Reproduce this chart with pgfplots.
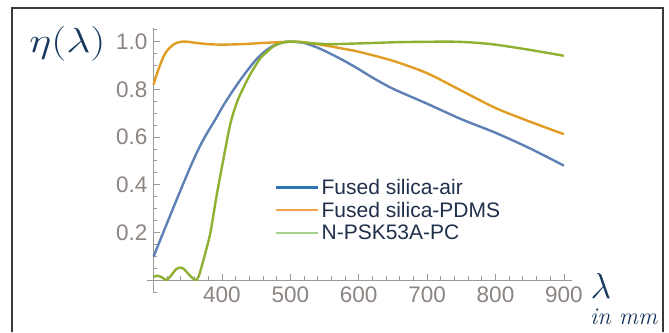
\documentclass[border=0pt]{standalone}
\usepackage{pgfplots}
\pgfplotsset{compat=1.18}
\usepackage{fontspec}
\setsansfont{Liberation Sans}
\definecolor{cblue}{HTML}{5E81B5}
\definecolor{corange}{HTML}{E19C24}
\definecolor{cgreen}{HTML}{8FB131}
\definecolor{lblue}{HTML}{2E75B6}
\definecolor{lorange}{HTML}{F4A24A}
\definecolor{lgreen}{HTML}{A9D18E}
\definecolor{navy}{HTML}{17375E}
\definecolor{legtext}{HTML}{1F2F4A}
\definecolor{axgray}{HTML}{9A9A9A}
\definecolor{lbgray}{HTML}{8C8480}
\definecolor{framec}{HTML}{3A3A3A}
\begin{document}
\begin{tikzpicture}[x=1pt,y=1pt]
\useasboundingbox (0,0) rectangle (669,332);
\draw[framec, line width=1.6pt] (12,0) -- (12,324) -- (663,324) -- (663,0);
\begin{axis}[
  at={(153.5pt,52pt)}, anchor=south west,
  scale only axis, width=418.6pt, height=252.3pt,
  xmin=300, xmax=912, ymin=0, ymax=1.059,
  axis x line=bottom, axis y line=left,
  axis line style={-, axgray, line width=0.8pt},
  xtick={400,500,...,900}, ytick={0.2,0.4,...,1.0},
  minor xtick={320,340,...,900}, minor ytick={0.05,0.1,...,1.06},
  tick align=inside,
  major tick length=6pt, minor tick length=3.5pt,
  tick style={axgray, line width=0.8pt},
  /pgf/number format/assume math mode=true,
  ticklabel style={font=\fontsize{22.5}{22.5}\selectfont\sffamily, text=lbgray},
  yticklabel style={xshift=-2.5pt, /pgf/number format/.cd, fixed, fixed zerofill, precision=1},
  xticklabel style={yshift=-3pt, /pgf/number format/.cd, fixed, 1000 sep={}},
  legend style={draw=none, fill=none, at={(0.2903,0.2774)}, anchor=west,
    font=\fontsize{21}{21}\selectfont\sffamily, text=legtext, row sep=2pt,
    inner sep=0pt},
  legend cell align=left,
  legend image code/.code={\draw[#1, line width=2.4pt] (0pt,0pt) -- (42pt,0pt);},
  every axis plot/.append style={line width=2.4pt, smooth, no markers},
  clip=false,
]
\addplot[cblue, forget plot] coordinates {
(300,0.098)(320,0.240)(340,0.380)(355,0.482)(365,0.545)(375,0.600)(390,0.672)
(402,0.732)(415,0.790)(427,0.840)(440,0.890)(451,0.928)(463,0.960)(475,0.983)
(488,0.997)(500,1.0)
(520,0.995)(540,0.975)(560,0.948)(580,0.918)(600,0.885)(620,0.850)(650,0.803)
(700,0.740)(750,0.675)(800,0.618)(850,0.553)(900,0.480)};
\addplot[corange, forget plot] coordinates {
(300,0.82)(305,0.865)(310,0.905)(315,0.94)(320,0.963)(330,0.99)(340,1.0)(350,1.0)
(360,0.996)(380,0.99)(400,0.988)(430,0.99)(460,0.995)(500,1.0)(520,0.998)
(550,0.985)(575,0.972)(600,0.958)(650,0.92)(700,0.868)(750,0.795)(800,0.722)
(850,0.665)(900,0.612)};
\addplot[cgreen, forget plot] coordinates {
(300,0.012)(305,0.018)(312,0.012)(319,0.0)(326,0.02)(333,0.045)(339,0.052)
(345,0.045)(352,0.022)(361,0.0)(366,0.015)(373,0.084)(383,0.196)(392,0.35)
(402,0.504)(412,0.651)(420,0.73)(426.5,0.777)(441,0.861)(456,0.93)(465,0.955)
(475,0.98)(485,0.993)(495,1.0)(510,1.0)(530,0.994)(558,0.99)(600,0.993)
(655,0.998)(700,1.0)(743,1.0)(775,0.995)(802,0.987)(850,0.966)(900,0.941)};
\addlegendimage{lblue}
\addlegendentry{Fused silica-air}
\addlegendimage{lorange}
\addlegendentry{Fused silica-PDMS}
\addlegendimage{lgreen}
\addlegendentry{N-PSK53A-PC}
\draw[axgray, line width=0.8pt] (axis cs:300,0) -- ++(-7pt,0pt);
\draw[axgray, line width=0.8pt] (axis cs:300,0) -- ++(0pt,-12pt) -- ++(3.5pt,0pt);
\end{axis}
\node[anchor=west, text=navy, inner sep=0pt, xscale=1.7, yscale=1.4] at (29,288) {\Huge$\eta(\lambda)$};
\node[text=navy, inner sep=0pt, scale=1.45] at (601,46) {\Huge$\lambda$};
\node[text=navy, inner sep=0pt] at (624,15) {\fontsize{24}{24}\selectfont\textit{in mm}};
\end{tikzpicture}
\end{document}
